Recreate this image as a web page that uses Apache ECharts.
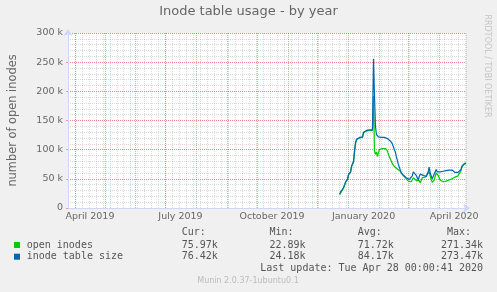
<!DOCTYPE html>
<html>
<head>
<meta charset="utf-8">
<script src="https://cdn.jsdelivr.net/npm/echarts@6/dist/echarts.min.js"></script>
<style>
html,body{margin:0;padding:0;background:#f0f0f0;}
#c{width:497px;height:292px;}
</style>
</head>
<body>
<div id="c"></div>
<script>
// ---- data (values in thousands, one sample per day starting 2019-12-23) ----
const firstSample = [2019, 11, 23];
const openInodes = [
  23,26,29,31,34,39,44,46,49,57,
  60,61,71,75,79,97,111,117,118,119,
  120,120,120,121,129,131,132,132,132,133,
  133,133,133,133,192,98,92,96,88,95,
  100,101,102,102,102,102,102,101,98,92,
  88,84,80,76,73,71,69,68,67,66,
  65,63,60,58,56,54,52,50,48,46,
  45,45,45,46,52,55,52,47,45,45,
  47,43,47,52,54,54,53,55,57,60,
  62,55,49,44,43,48,54,60,62,56,
  52,48,47,46,45,47,48,46,47,49,
  48,47,49,50,51,52,53,54,54,55,
  56,58,64,71,74,75,76,75.97
];
const inodeTableSize = [
  24,28,30,32,35,40,45,47,50,58,
  61,62,72,76,80,98,112,118,119,120,
  121,121,121,122,130,132,133,133,133,134,
  134,134,134,134,256,195,140,126,123,122,
  122,121,121,121,121,121,121,120,119,119,
  117,115,113,110,105,100,96,88,82,75,
  70,65,60,58,56,55,53,52,50,49,
  49,48,49,55,62,60,64,56,52,48,
  54,58,57,57,56,55,55,54,54,62,
  70,60,55,50,52,58,62,66,62,61,
  61,62,62,63,63,63,64,64,64,64,
  65,65,65,65,65,64,61,61,61,61,
  62,62,66,72,74,75,77,76.42
];
const yTickLabels = ['0','50 k','100 k','150 k','200 k','250 k','300 k'];
const monthNames = ['January','February','March','April','May','June','July','August','September','October','November','December'];
const legendNames = ['open inodes','inode table size'];
const legendColors = ['#00cc00','#0066b3'];
const curVals = ['75.97k','76.42k'];
const minVals = ['22.89k','24.18k'];
const avgVals = ['71.72k','84.17k'];
const maxVals = ['271.34k','273.47k'];
const lastUpdate = 'Last update: Tue Apr 28 00:00:41 2020';
const titleText = 'Inode table usage - by year';
const yName = 'number of open inodes';
const version = 'Munin 2.0.37-1ubuntu0.1';
const watermark = 'RRDTOOL / TOBI OETIKER';

// ---- build ----
function toPairs(arr){
  return arr.map((v,i)=>[new Date(firstSample[0], firstSample[1], firstSample[2]+i).getTime(), v*1000]);
}
const tMin = new Date(2019,2,25,0,0,41).getTime();
const tMax = new Date(2020,3,28,0,0,41).getTime();
const DAY = 86400000;
// month-start grid positions (calendar)
const monthStarts = [];
for (let m = 3; m <= 15; m++) monthStarts.push({xAxis: new Date(2019, m, 1).getTime()});

const FONT = '"DejaVu Sans"';
const MONO = '"DejaVu Sans Mono"';
const txt = '#666666';
const legTxt = '#555555';
const axisCol = '#cfd6f8';
const gridMinor = 'rgba(128,128,128,0.30)';
const gridMajor = 'rgba(255,0,0,0.37)';

const graphic = [];
const cols = [181.7, 269.5, 357.7, 447];
['Cur:','Min:','Avg:','Max:'].forEach((h,i)=>{
  graphic.push({type:'text', x:cols[i], y:232.5, style:{text:h, font:'10px '+MONO, fill:legTxt, verticalAlign:'middle'}});
});
const rowY = [245, 256.7];
const valX = [181.7, 269.5, 357.7, 441];
legendNames.forEach((n,i)=>{
  graphic.push({type:'rect', shape:{x:14, y:rowY[i]-3, width:6, height:6}, style:{fill:legendColors[i]}});
  graphic.push({type:'text', x:26.7, y:rowY[i], style:{text:n, font:'10px '+MONO, fill:legTxt, verticalAlign:'middle'}});
  [curVals[i],minVals[i],avgVals[i],maxVals[i]].forEach((v,j)=>{
    graphic.push({type:'text', x:valX[j], y:rowY[i], style:{text:v, font:'10px '+MONO, fill:legTxt, verticalAlign:'middle'}});
  });
});
graphic.push({type:'text', x:483, y:268.4, style:{text:lastUpdate, font:'10px '+MONO, fill:legTxt, align:'right', verticalAlign:'middle'}});
graphic.push({type:'text', x:248, y:281, style:{text:version, font:'8px '+FONT, fill:'#bbbbbb', align:'center', verticalAlign:'middle'}});
graphic.push({type:'text', x:487, y:66, rotation:-Math.PI/2, style:{text:watermark, font:'8px '+FONT, fill:'#c4c4c4', align:'center', verticalAlign:'middle'}});

const chart = echarts.init(document.getElementById('c'), null, {renderer:'canvas'});
chart.setOption({
  animation:false,
  backgroundColor:'#f0f0f0',
  title:{text:titleText, left:'center', top:5, padding:0,
    textStyle:{fontFamily:'DejaVu Sans', fontSize:13, fontWeight:'normal', color:txt}},
  grid:{left:66, top:33, width:400, height:175, show:true, backgroundColor:'#ffffff', borderWidth:0},
  xAxis:[
    {type:'value', min:0, max:400, interval:7, position:'bottom', z:0,
      axisLine:{show:false}, axisTick:{show:false}, axisLabel:{show:false},
      splitLine:{show:true, lineStyle:{color:gridMinor, width:1, type:[1,1]}}},
    {type:'time', min:tMin, max:tMax, splitNumber:13, minInterval:28*DAY, maxInterval:31*DAY, position:'bottom', z:1,
      axisLine:{show:true, lineStyle:{color:axisCol, width:1}, symbol:['none','arrow'], symbolSize:[7,7], symbolOffset:[0,4]},
      axisTick:{show:false},
      axisLabel:{show:true, interval:0, margin:4, color:txt, fontFamily:'DejaVu Sans', fontSize:9.5, hideOverlap:false,
        showMinLabel:false, showMaxLabel:false,
        formatter:function(v){
          const d = new Date(v);
          if (d.getDate()===1 && d.getHours()===0 && d.getMonth()%3===0) return '{a|'+monthNames[d.getMonth()]+' '+d.getFullYear()+'}';
          return '';
        },
        rich:{a:{padding:[0,0,0,30], color:txt, fontFamily:'DejaVu Sans', fontSize:9.5}}},
      splitLine:{show:false}}
  ],
  yAxis:[
    {type:'value', min:0, max:300000, interval:10000, z:0, position:'left',
      axisLine:{show:false}, axisTick:{show:false}, axisLabel:{show:false},
      splitLine:{show:true, lineStyle:{color:gridMinor, width:1, type:[1,1]}}},
    {type:'value', min:0, max:300000, interval:50000, z:1, position:'left',
      name:yName, nameLocation:'middle', nameGap:49, nameRotate:90,
      nameTextStyle:{fontFamily:'DejaVu Sans', fontSize:11.4, color:txt},
      axisLine:{show:true, lineStyle:{color:axisCol, width:1}, symbol:['none','arrow'], symbolSize:[7,7], symbolOffset:[0,4]},
      axisTick:{show:true, length:2, lineStyle:{color:gridMajor}},
      axisLabel:{margin:5, color:txt, fontFamily:'DejaVu Sans', fontSize:9.5,
        formatter:function(v){ return yTickLabels[Math.round(v/50000)]; }},
      splitLine:{show:true, lineStyle:{color:gridMajor, width:1, type:[1,1]}}}
  ],
  series:[
    {name:'monthGrid', type:'line', xAxisIndex:1, yAxisIndex:1, data:[], z:1, silent:true,
      markLine:{silent:true, symbol:['none','none'], animation:false, label:{show:false},
        lineStyle:{color:gridMajor, width:1, type:[1,1]}, emphasis:{disabled:true}, data:monthStarts}},
    {name:legendNames[0], type:'line', xAxisIndex:1, yAxisIndex:1, data:toPairs(openInodes),
      showSymbol:false, z:3, lineStyle:{color:legendColors[0], width:1.2}, itemStyle:{color:legendColors[0]}},
    {name:legendNames[1], type:'line', xAxisIndex:1, yAxisIndex:1, data:toPairs(inodeTableSize),
      showSymbol:false, z:4, lineStyle:{color:legendColors[1], width:1.2}, itemStyle:{color:legendColors[1]}}
  ],
  graphic:graphic
});
</script>
</body>
</html>
